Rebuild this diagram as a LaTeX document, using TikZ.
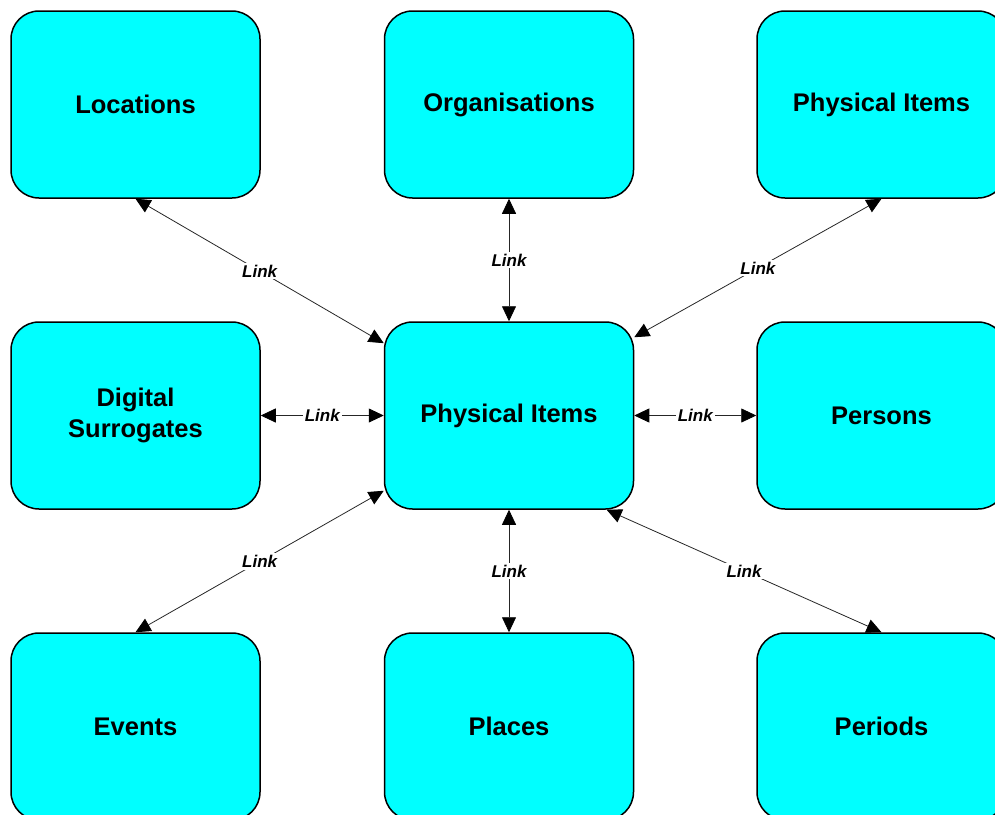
\documentclass[tikz,border=0pt]{standalone}
\usepackage{fontspec}
\setmainfont{Liberation Sans}
\usetikzlibrary{arrows.meta}
\definecolor{boxcyan}{RGB}{0,255,255}

\begin{document}
\begin{tikzpicture}[x=1pt,y=-1pt]
		\tikzset{box/.style = {shape=rectangle, draw, line width=1.5pt, rounded corners=28pt, fill=boxcyan,
				minimum width=249pt, minimum height=187pt, align=center,
				font=\fontsize{25.5}{31}\selectfont\bfseries},
			link/.style = {draw=black!85, line width=0.8pt,
				{Triangle[length=15pt,width=14pt,color=black]}-{Triangle[length=15pt,width=14pt,color=black]}},
			lab/.style = {fill=white, inner sep=2pt, font=\fontsize{17}{20}\selectfont\bfseries\itshape}}

		\useasboundingbox (0,0) rectangle (995,814);
		\clip (0,0) rectangle (995,814);

		\node[box] (Loc) at (135.5,104.5) {Locations};
		\node[box] (Org) at (509,104.5) {Organisations};
		\node[box] (Items) at (881.5,104.5) {Physical Items};
		\node[box] (Digi) at (135.5,415.5) {Digital\\Surrogates};
		\node[box] (Centre) at (509,415.5) {Physical Items};
		\node[box] (Pers) at (881.5,415.5) {Persons};
		\node[box] (Ev) at (135.5,726.5) {Events};
		\node[box] (Pl) at (509,726.5) {Places};
		\node[box] (Per) at (881.5,726.5) {Periods};


		\draw[link] (Loc.south) -- node[lab] {Link} (Centre.150);
		\draw[link] (Org.south) -- node[lab] {Link} (Centre.north);
		\draw[link] (Items.south) -- node[lab] {Link} (Centre.32);
		\draw[link] (Digi.east) -- node[lab] {Link} (Centre.west);
		\draw[link] (Pers.west) -- node[lab] {Link} (Centre.east);
		\draw[link] (Ev.north) -- node[lab] {Link} (Centre.211);
		\draw[link] (Pl.north) -- node[lab] {Link} (Centre.south);
		\draw[link] (Per.north) -- node[lab] {Link} (Centre.-44);

	\end{tikzpicture}
\end{document}
